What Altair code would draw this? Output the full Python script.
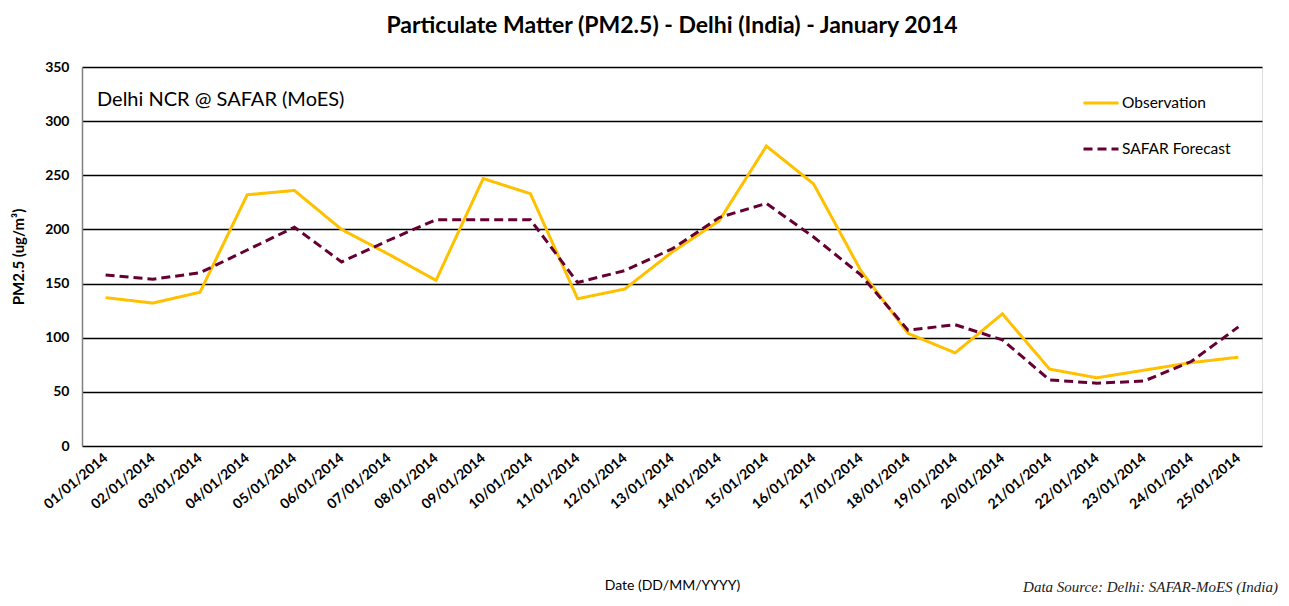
import altair as alt
import pandas as pd

dates = ["01/01/2014", "02/01/2014", "03/01/2014", "04/01/2014", "05/01/2014",
         "06/01/2014", "07/01/2014", "08/01/2014", "09/01/2014", "10/01/2014",
         "11/01/2014", "12/01/2014", "13/01/2014", "14/01/2014", "15/01/2014",
         "16/01/2014", "17/01/2014", "18/01/2014", "19/01/2014", "20/01/2014",
         "21/01/2014", "22/01/2014", "23/01/2014", "24/01/2014", "25/01/2014"]
observation = [137, 132, 142, 232, 236, 200, 177, 153, 247, 233, 136, 145, 179,
               208, 277, 242, 162, 104, 86, 122, 71, 63, 70, 77, 82]
forecast = [158, 154, 160, 181, 202, 170, 190, 209, 209, 209, 151, 162, 182,
            211, 224, 193, 158, 107, 112, 98, 61, 58, 60, 78, 110]
series_names = ["Observation", "SAFAR Forecast"]
series_colors = ["#FFC000", "#660033"]
y_ticks = [0, 50, 100, 150, 200, 250, 300, 350]

rows = []
for d, o, f in zip(dates, observation, forecast):
    rows.append({"date": d, "series": series_names[0], "value": o})
    rows.append({"date": d, "series": series_names[1], "value": f})
df = pd.DataFrame(rows)

FONT = "Lato"
W, H = 1180, 379

legend_kw = dict(title=None, orient="none", legendX=1000, legendY=17,
                 symbolType="stroke", symbolSize=1225, symbolStrokeWidth=3,
                 labelFont=FONT, labelFontSize=15.5, labelColor="#000",
                 rowPadding=18, labelOffset=2)

lines = alt.Chart(df).mark_line(strokeWidth=3, clip=False).encode(
    x=alt.X("date:N", sort=dates,
            scale=alt.Scale(type="point", padding=0.5),
            axis=alt.Axis(title="Date (DD/MM/YYYY)", labelAngle=-40, labelAlign="right",
                          labelBaseline="middle", labelFont=FONT, labelFontSize=14,
                          labelFontWeight="bold", labelColor="#000", labelPadding=10,
                          ticks=False, domain=False, grid=False,
                          titleFont=FONT, titleFontSize=14, titleFontWeight="normal",
                          titleColor="#000", titleY=139, titleBaseline="middle")),
    y=alt.Y("value:Q", scale=alt.Scale(domain=[0, 350], nice=False),
            axis=alt.Axis(title="PM2.5 (ug/m³)", values=y_ticks, labelFont=FONT,
                          labelFontSize=14, labelFontWeight="bold", labelColor="#000",
                          labelPadding=13, ticks=False, domain=True, domainColor="#808080",
                          domainWidth=1.5, grid=True, gridColor="#000", gridWidth=1.6,
                          titleFont=FONT, titleFontSize=15, titleFontWeight="bold",
                          titleColor="#000", titleX=-64, titleY=H / 2, titleAngle=-90,
                          titleAlign="center", titleBaseline="middle")),
    color=alt.Color("series:N", scale=alt.Scale(domain=series_names, range=series_colors),
                    legend=alt.Legend(**legend_kw)),
    strokeDash=alt.StrokeDash("series:N",
                              scale=alt.Scale(domain=series_names, range=[[1, 0], [9, 5]]),
                              legend=alt.Legend(**legend_kw)),
)

label = alt.Chart(pd.DataFrame({"t": ["Delhi NCR @ SAFAR (MoES)"]})).mark_text(
    align="left", baseline="middle", font=FONT, fontSize=20, color="#000"
).encode(text="t:N", x=alt.value(15), y=alt.value(33))

source = alt.Chart(pd.DataFrame({"t": ["Data Source: Delhi: SAFAR-MoES (India)"]})).mark_text(
    align="right", baseline="alphabetic", font="Liberation Serif", fontStyle="italic",
    fontSize=15, color="#222"
).encode(text="t:N", x=alt.value(1196), y=alt.value(H + 146))

chart = alt.layer(lines, label, source).properties(
    width=W, height=H,
    title=alt.TitleParams("Particulate Matter (PM2.5) - Delhi (India) - January 2014",
                          font=FONT, fontSize=23, fontWeight="bold", color="#000",
                          anchor="middle", offset=22),
    autosize=alt.AutoSizeParams(type="none"),
    padding={"left": 74, "top": 59, "right": 19, "bottom": 150},
).configure_view(stroke="#808080", strokeWidth=1.5).configure(background="white")

chart.save("out.html", embed_options={"renderer": "svg", "actions": False})
